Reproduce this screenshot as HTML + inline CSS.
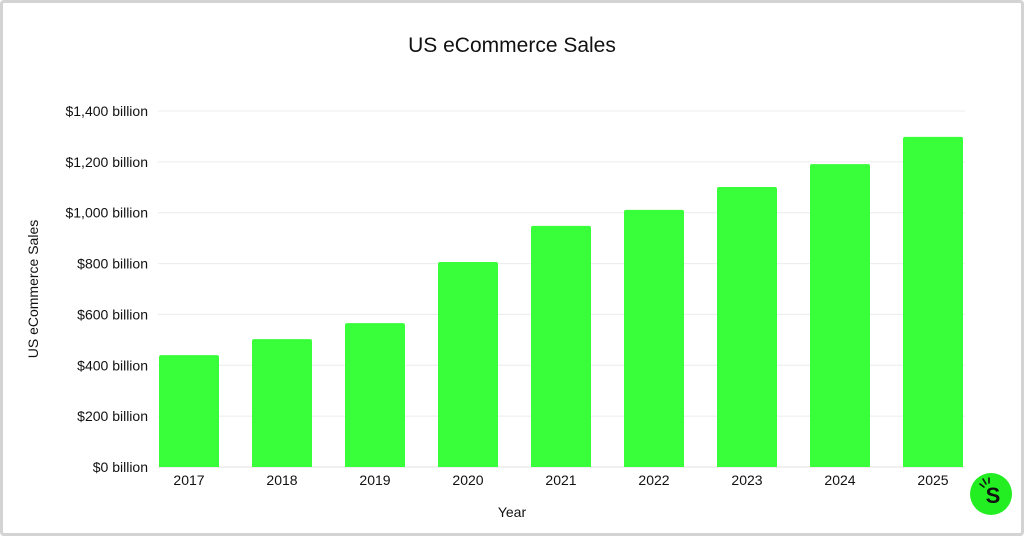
<!DOCTYPE html>
<html><head><meta charset="utf-8"><style>
html,body{margin:0;padding:0;background:#fff}
#wrap{position:relative;width:1024px;height:536px;box-sizing:border-box;border:3px solid #d3d3d3;border-radius:4px;overflow:hidden;background:#fff}
svg{position:absolute;left:-3px;top:-3px}
text{font-family:"Liberation Sans",sans-serif;fill:#111}
</style></head><body>
<div id="wrap">
<svg id="chart" width="1024" height="536"></svg>
</div>
<script>
const categories=["2017","2018","2019","2020","2021","2022","2023","2024","2025"];
const salesValues=[440,503,566,806,948,1011,1101,1191,1298];
const tickValues=[0,200,400,600,800,1000,1200,1400];
const tickLabels=["$0 billion","$200 billion","$400 billion","$600 billion","$800 billion","$1,000 billion","$1,200 billion","$1,400 billion"];

const NS="http://www.w3.org/2000/svg";
const svg=document.getElementById('chart');
const y0=467,y1=111,vmax=1400;
const yScale=v=>y0-(v/vmax)*(y0-y1);
const bandStart=142.5,band=93,barW=60;
const xCenter=i=>bandStart+band*i+band/2;
function mk(tag,attrs,txt){const e=document.createElementNS(NS,tag);for(const k in attrs)e.setAttribute(k,attrs[k]);if(txt!==undefined)e.textContent=txt;svg.appendChild(e);return e;}

let t=mk('text',{x:512,y:52,'text-anchor':'middle','font-size':21},'US eCommerce Sales');



tickValues.forEach((v,i)=>{
  const y=yScale(v);
  const g=mk('line',{x1:158,x2:965,y1:y,y2:y,stroke:i===0?'#e0e0e0':'#ececec','stroke-width':1});
  
  
  const l=mk('text',{x:148,y:y+5,'text-anchor':'end','font-size':14},tickLabels[i]);
  
  
});

categories.forEach((c,i)=>{
  const cx=xCenter(i),top=yScale(salesValues[i]);
  const r=mk('path',{d:`M${cx-barW/2},${y0} V${top+2} Q${cx-barW/2},${top} ${cx-barW/2+2},${top} H${cx+barW/2-2} Q${cx+barW/2},${top} ${cx+barW/2},${top+2} V${y0} Z`,fill:'#39ff3a'});
  
  
  const l=mk('text',{x:cx,y:485,'text-anchor':'middle','font-size':14},c);
  
  
});

let xt=mk('text',{x:512,y:517,'text-anchor':'middle','font-size':14},'Year');


let yt=mk('text',{x:0,y:0,'text-anchor':'middle','font-size':14,transform:'translate(38,289) rotate(-90)'},'US eCommerce Sales');



let lc=mk('circle',{cx:991,cy:494,r:21,fill:'#22ee22'});


let ls=mk('text',{x:993,y:503,'text-anchor':'middle','font-size':22,'font-weight':'bold'},'S');


['M980,484 L984,487','M983,479 L986,484','M989,478 L989,483'].forEach(d=>{
  const p=mk('path',{d:d,stroke:'#111','stroke-width':1.6,'stroke-linecap':'round'});
  
  
});
</script>
</body></html>
